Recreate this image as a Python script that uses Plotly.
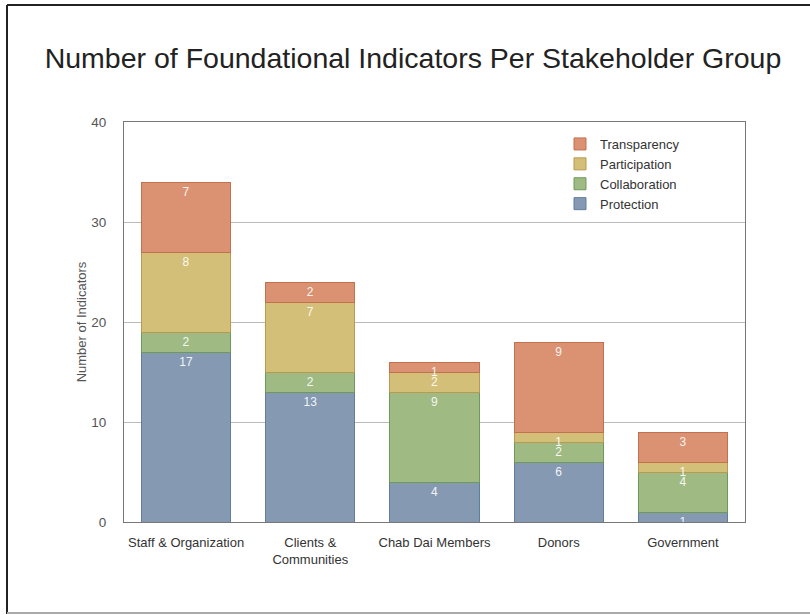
import plotly.graph_objects as go

# Stakeholder groups and indicator counts per category
groups = ["Staff & Organization", "Clients &<br>Communities", "Chab Dai Members", "Donors", "Government"]
protection = [17, 13, 4, 6, 1]
collaboration = [2, 2, 9, 2, 4]
participation = [8, 7, 2, 1, 1]
transparency = [7, 2, 1, 9, 3]

series = [
    ("Protection", protection, "#8599B3", "#5F7DA3"),
    ("Collaboration", collaboration, "#9FBA83", "#6E9A58"),
    ("Participation", participation, "#D4BF78", "#B8994F"),
    ("Transparency", transparency, "#DA9272", "#C2704E"),
]

W, H = 810, 615
L, R, T, B = 124, 745, 122, 522  # plot area in pixels

fig = go.Figure()
for name, vals, fill, edge in series:
    fig.add_trace(go.Bar(
        name=name,
        x=groups,
        y=vals,
        text=[str(v) for v in vals],
        textposition="inside",
        insidetextanchor="end",
        textangle=0,
        textfont=dict(color="rgba(255,255,255,0.92)", size=12, family="Liberation Sans, Arial"),
        marker=dict(color=fill, line=dict(color=edge, width=1)),
        hoverinfo="skip",
    ))


def px_x(p):
    return (p - L) / (R - L)


def px_y(p):
    return (B - p) / (B - T)


shapes = [
    # outer frame: dark left and top edges, light bottom edge
    dict(type="line", xref="paper", yref="paper", x0=px_x(7), x1=px_x(7), y0=px_y(5), y1=px_y(614),
         line=dict(color="#222", width=2)),
    dict(type="line", xref="paper", yref="paper", x0=px_x(7), x1=px_x(812), y0=px_y(5), y1=px_y(5),
         line=dict(color="#222", width=2)),
    dict(type="line", xref="paper", yref="paper", x0=px_x(7), x1=px_x(812), y0=px_y(613), y1=px_y(613),
         line=dict(color="#aaa", width=2)),
]

fig.update_layout(
    width=W, height=H,
    margin=dict(l=L, r=W - R, t=T, b=H - B, pad=0),
    paper_bgcolor="white",
    plot_bgcolor="white",
    barmode="stack",
    bargap=0.283,
    font=dict(family="Liberation Sans, Arial", color="#333"),
    uniformtext=dict(minsize=12, mode="show"),
    title=dict(
        text="Number of Foundational Indicators Per Stakeholder Group",
        x=413 / W, xanchor="center",
        y=1 - 58 / H, yanchor="middle",
        font=dict(size=28.5, color="#222", family="Liberation Sans, Arial"),
    ),
    legend=dict(
        x=px_x(560), y=px_y(129), xanchor="left", yanchor="top",
        traceorder="reversed",
        font=dict(size=13, color="#333"),
        bgcolor="rgba(0,0,0,0)",
        itemwidth=30,
        tracegroupgap=0,
    ),
    xaxis=dict(
        showline=True, linecolor="#777", linewidth=1, mirror=True,
        ticks="", tickfont=dict(size=13, color="#333"),
        ticklabelstandoff=8,
        showgrid=False,
    ),
    yaxis=dict(
        range=[0, 40], tickvals=[0, 10, 20, 30, 40],
        showline=True, linecolor="#777", linewidth=1, mirror=True,
        showgrid=True, gridcolor="#bbb", gridwidth=1,
        zeroline=False,
        ticks="", ticklabelstandoff=14,
        tickfont=dict(size=13.5, color="#555"),
        title=dict(text="Number of Indicators", font=dict(size=13, color="#555"), standoff=1),
    ),
    shapes=shapes,
)

fig.write_html("out.html")
